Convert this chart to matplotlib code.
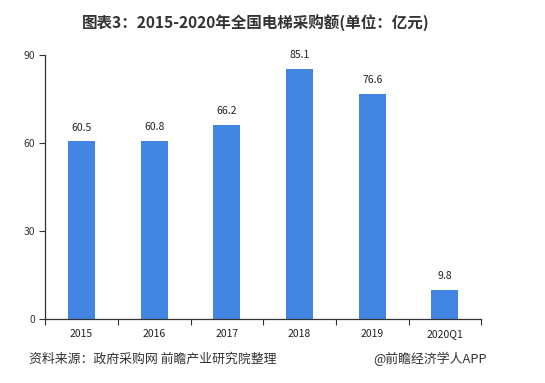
import matplotlib
matplotlib.use('Agg')
import matplotlib.pyplot as plt
import numpy as np

plt.rcParams['font.family'] = ['Noto Sans CJK SC', 'DejaVu Sans']

#chart data
years = ['2015', '2016', '2017', '2018', '2019', '2020Q1']
amounts = [60.5, 60.8, 66.2, 85.1, 76.6, 9.8]
yticks = [0, 30, 60, 90]

fig = plt.figure(figsize=(5.45, 3.83), dpi=100)
ax = fig.add_axes([0.083, 0.167, 0.8, 0.69])

x = np.arange(len(years))
bars = ax.bar(x, amounts, width=0.37, color='#4285e2')

#value labels above bars
for xi, v in zip(x, amounts):
    ax.text(xi, v + 3, f'{v:.1f}', ha='center', va='bottom', fontsize=7.5, color='#222222')

ax.set_xlim(-0.5, len(years) - 0.5)
ax.set_ylim(0, 90)
ax.set_yticks(yticks)
ax.tick_params(axis='y', labelsize=7.5, length=4, colors='#333333')

#ticks between categories, labels under bars
ax.set_xticks(np.arange(len(years) + 1) - 0.5)
ax.set_xticklabels([])
ax.set_xticks(x, minor=True)
ax.set_xticklabels(years, minor=True)
ax.tick_params(axis='x', which='major', length=4, colors='#333333')
ax.tick_params(axis='x', which='minor', length=0, labelsize=7.5, pad=7, labelcolor='#222222')

for s in ['top', 'right']:
    ax.spines[s].set_visible(False)
for s in ['left', 'bottom']:
    ax.spines[s].set_color('#333333')
    ax.spines[s].set_linewidth(0.9)

fig.text(0.469, 0.94, '图表3：2015-2020年全国电梯采购额(单位：亿元)', ha='center', va='center',
         fontsize=11.2, fontweight='bold', color='#333333')
fig.text(0.053, 0.063, '资料来源：政府采购网 前瞻产业研究院整理', ha='left', va='center',
         fontsize=9.3, color='#333333')
fig.text(0.894, 0.063, '@前瞻经济学人APP', ha='right', va='center',
         fontsize=9.3, color='#333333')

fig.savefig('out.png', dpi=100)
